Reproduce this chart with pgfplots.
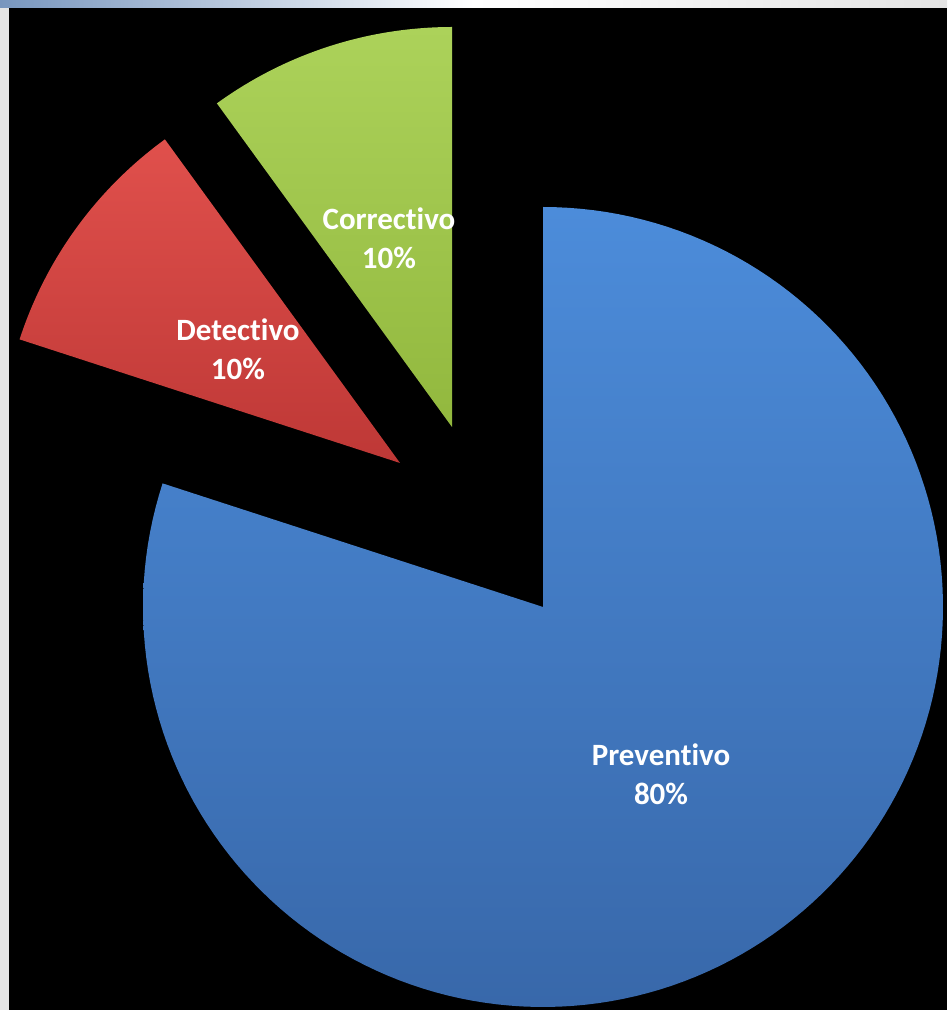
\documentclass[border=0pt]{standalone}
\usepackage{fontspec}
\setmainfont[RawFeature={-liga;-clig;-calt;-dlig}]{Carlito}
\usepackage{pgfplots}
\usepackage{pgfplotstable}
\pgfplotsset{compat=1.18}
\definecolor{bluetop}{RGB}{76,140,218}
\definecolor{bluebot}{RGB}{56,104,170}
\definecolor{redtop}{RGB}{224,80,76}
\definecolor{redbot}{RGB}{190,56,54}
\definecolor{greentop}{RGB}{172,210,90}
\definecolor{greenbot}{RGB}{146,184,62}
\definecolor{framegray}{RGB}{228,228,228}
\definecolor{frameblue}{RGB}{120,150,190}
% slice values (percent) and exploded centres (px, y measured upward)
\pgfplotstableread{
label value cx cy
Preventivo 80 543 403
Detectivo 10 400 547
Correctivo 10 452 583
}\piedata
\begin{document}
\begin{tikzpicture}
\begin{axis}[
  width=473.5pt, height=505pt, scale only axis,
  xmin=0, xmax=947, ymin=0, ymax=1010,
  hide axis, clip=true,
]
\fill[framegray] (axis cs:0,0) rectangle (axis cs:947,1010);
\shade[left color=frameblue, right color=framegray, middle color=white] (axis cs:0,1002) rectangle (axis cs:947,1010);
\fill[black] (axis cs:9,0) rectangle (axis cs:947,1002);
\pgfplotstablegetelem{0}{value}\of\piedata \let\vA\pgfplotsretval
\pgfplotstablegetelem{1}{value}\of\piedata \let\vB\pgfplotsretval
\pgfplotstablegetelem{2}{value}\of\piedata \let\vC\pgfplotsretval
\pgfplotstablegetelem{0}{cx}\of\piedata \let\xA\pgfplotsretval
\pgfplotstablegetelem{0}{cy}\of\piedata \let\yA\pgfplotsretval
\pgfplotstablegetelem{1}{cx}\of\piedata \let\xB\pgfplotsretval
\pgfplotstablegetelem{1}{cy}\of\piedata \let\yB\pgfplotsretval
\pgfplotstablegetelem{2}{cx}\of\piedata \let\xC\pgfplotsretval
\pgfplotstablegetelem{2}{cy}\of\piedata \let\yC\pgfplotsretval
\pgfmathsetmacro\aA{90-3.6*\vA}
\pgfmathsetmacro\aB{\aA-3.6*\vB}
\pgfmathsetmacro\aC{\aB-3.6*\vC}
% Preventivo
\addplot[draw=none, top color=bluetop, bottom color=bluebot, domain=\aA:90, samples=160, variable=\t]
  ({\xA+400*cos(\t)},{\yA+400*sin(\t)}) -- (axis cs:\xA,\yA) -- cycle;
% Detectivo
\addplot[draw=none, top color=redtop, bottom color=redbot, domain=\aB:\aA, samples=40, variable=\t]
  ({\xB+400*cos(\t)},{\yB+400*sin(\t)}) -- (axis cs:\xB,\yB) -- cycle;
% Correctivo
\addplot[draw=none, top color=greentop, bottom color=greenbot, domain=\aC:\aB, samples=40, variable=\t]
  ({\xC+400*cos(\t)},{\yC+400*sin(\t)}) -- (axis cs:\xC,\yC) -- cycle;
\node[text=white, align=center, font=\bfseries\fontsize{15.5}{19.5}\selectfont] at (axis cs:661,236) {Preventivo\\80\%};
\node[text=white, align=center, font=\bfseries\fontsize{15.5}{19.5}\selectfont] at (axis cs:238,661) {Detectivo\\10\%};
\node[text=white, align=center, font=\bfseries\fontsize{15.5}{19.5}\selectfont] at (axis cs:389,772) {Correctivo\\10\%};
\end{axis}
\end{tikzpicture}
\end{document}
